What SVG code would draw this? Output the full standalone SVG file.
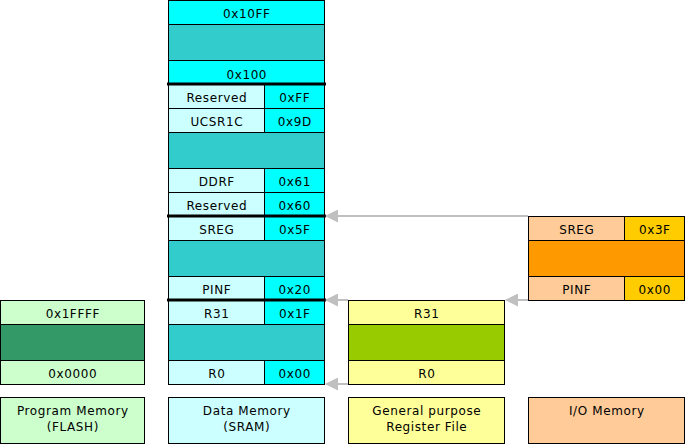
<svg xmlns="http://www.w3.org/2000/svg" width="685" height="445" viewBox="0 0 685 445">
<style>
rect{stroke:#000;stroke-width:1}
text{font-family:"DejaVu Sans","Verdana",sans-serif;font-size:12px;letter-spacing:0.6px;fill:#000;text-anchor:middle}
.cy{fill:#00FFFF}.lc{fill:#CCFFFF}.tl{fill:#33CCCC}
.lg{fill:#CCFFCC}.dg{fill:#339966}
.ly{fill:#FFFF99}.yg{fill:#99CC00}
.pe{fill:#FFCC99}.or{fill:#FF9900}.go{fill:#FFCC00}
.thick{stroke:#000;stroke-width:3}
.conn{stroke:#C0C0C0;stroke-width:2;fill:none;marker-end:url(#ah)}
</style>
<defs>
<marker id="ah" markerUnits="userSpaceOnUse" markerWidth="13" markerHeight="13" refX="12" refY="6.5" orient="auto">
<path d="M0,0 L13,6.5 L0,13 z" fill="#C0C0C0"/>
</marker>
</defs>

<g id="data-memory">
<rect class="cy" x="168.5" y="0.5" width="156" height="24"/><text x="246.8" y="18">0x10FF</text>
<rect class="tl" x="168.5" y="24.5" width="156" height="36"/>
<rect class="cy" x="168.5" y="60.5" width="156" height="24"/><text x="246.8" y="79">0x100</text>
<rect class="lc" x="168.5" y="84.5" width="96" height="24"/><text x="216.8" y="102">Reserved</text>
<rect class="cy" x="264.5" y="84.5" width="60" height="24"/><text x="294.8" y="102">0xFF</text>
<rect class="lc" x="168.5" y="108.5" width="96" height="24"/><text x="216.8" y="126">UCSR1C</text>
<rect class="cy" x="264.5" y="108.5" width="60" height="24"/><text x="294.8" y="126">0x9D</text>
<rect class="tl" x="168.5" y="132.5" width="156" height="36"/>
<rect class="lc" x="168.5" y="168.5" width="96" height="24"/><text x="216.8" y="186">DDRF</text>
<rect class="cy" x="264.5" y="168.5" width="60" height="24"/><text x="294.8" y="186">0x61</text>
<rect class="lc" x="168.5" y="192.5" width="96" height="24"/><text x="216.8" y="210">Reserved</text>
<rect class="cy" x="264.5" y="192.5" width="60" height="24"/><text x="294.8" y="210">0x60</text>
<rect class="lc" x="168.5" y="216.5" width="96" height="24"/><text x="216.8" y="234">SREG</text>
<rect class="cy" x="264.5" y="216.5" width="60" height="24"/><text x="294.8" y="234">0x5F</text>
<rect class="tl" x="168.5" y="240.5" width="156" height="36"/>
<rect class="lc" x="168.5" y="276.5" width="96" height="24"/><text x="216.8" y="294">PINF</text>
<rect class="cy" x="264.5" y="276.5" width="60" height="24"/><text x="294.8" y="294">0x20</text>
<rect class="lc" x="168.5" y="300.5" width="96" height="24"/><text x="216.8" y="318">R31</text>
<rect class="cy" x="264.5" y="300.5" width="60" height="24"/><text x="294.8" y="318">0x1F</text>
<rect class="tl" x="168.5" y="324.5" width="156" height="36"/>
<rect class="lc" x="168.5" y="360.5" width="96" height="24"/><text x="216.8" y="378">R0</text>
<rect class="cy" x="264.5" y="360.5" width="60" height="24"/><text x="294.8" y="378">0x00</text>
<line class="thick" x1="167" y1="84" x2="326" y2="84"/>
<line class="thick" x1="167" y1="216" x2="326" y2="216"/>
<line class="thick" x1="167" y1="300" x2="326" y2="300"/>
</g>

<g id="program-memory">
<rect class="lg" x="0.5" y="300.5" width="144" height="24"/><text x="72.8" y="318">0x1FFFF</text>
<rect class="dg" x="0.5" y="324.5" width="144" height="36"/>
<rect class="lg" x="0.5" y="360.5" width="144" height="24"/><text x="72.8" y="378">0x0000</text>
</g>

<g id="register-file">
<rect class="ly" x="348.5" y="300.5" width="156" height="24"/><text x="426.8" y="318">R31</text>
<rect class="yg" x="348.5" y="324.5" width="156" height="36"/>
<rect class="ly" x="348.5" y="360.5" width="156" height="24"/><text x="426.8" y="378">R0</text>
</g>

<g id="io-memory">
<rect class="pe" x="528.5" y="216.5" width="96" height="24"/><text x="576.8" y="234">SREG</text>
<rect class="go" x="624.5" y="216.5" width="60" height="24"/><text x="654.8" y="234">0x3F</text>
<rect class="or" x="528.5" y="240.5" width="156" height="36"/>
<rect class="pe" x="528.5" y="276.5" width="96" height="24"/><text x="576.8" y="294">PINF</text>
<rect class="go" x="624.5" y="276.5" width="60" height="24"/><text x="654.8" y="294">0x00</text>
</g>

<g id="label-program">
<rect class="lg" x="0.5" y="397.5" width="144" height="46"/>
<text x="72.8" y="415">Program Memory</text><text x="72.8" y="431">(FLASH)</text>
</g>
<g id="label-data">
<rect class="lc" x="168.5" y="397.5" width="156" height="46"/>
<text x="246.8" y="415">Data Memory</text><text x="246.8" y="431">(SRAM)</text>
</g>
<g id="label-register">
<rect class="ly" x="348.5" y="397.5" width="156" height="46"/>
<text x="426.8" y="415">General purpose</text><text x="426.8" y="431">Register File</text>
</g>
<g id="label-io">
<rect class="pe" x="528.5" y="397.5" width="156" height="46"/>
<text x="606.8" y="415">I/O Memory</text>
</g>

<g id="connectors">
<path class="conn" d="M528,216 L326,216"/>
<path class="conn" d="M528,300 L506,300"/>
<path class="conn" d="M348,300 L326,300"/>
<path class="conn" d="M348,384 L326,384"/>
</g>
</svg>
